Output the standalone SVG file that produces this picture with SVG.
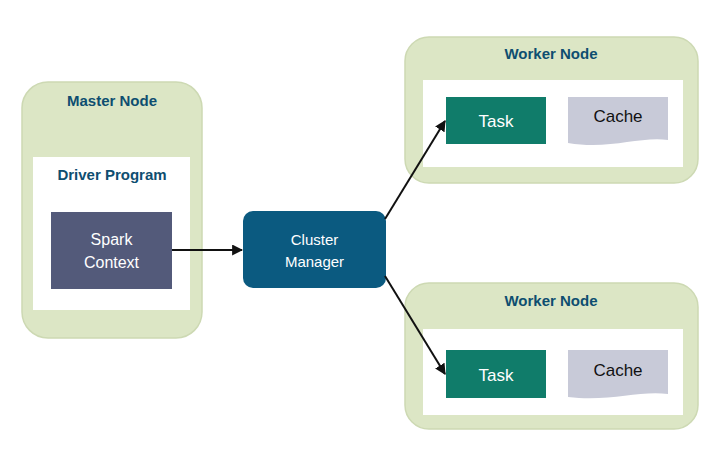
<svg xmlns="http://www.w3.org/2000/svg" width="715" height="461" viewBox="0 0 715 461">
<style>
.outer{fill:#dce6c5;stroke:#cdd9b3;stroke-width:1.5}
.inner{fill:#ffffff}
.title{font-family:"Liberation Sans",Arial,sans-serif;font-weight:bold;font-size:15px;fill:#0e4e70;text-anchor:middle}
.lbl{font-family:"Liberation Sans",Arial,sans-serif;font-size:16px;text-anchor:middle}
.big{font-size:17px}
.task{fill:#107c6a}
.cache{fill:#c8cad8}
.conn{stroke:#111111;stroke-width:2;fill:none;marker-end:url(#ah)}
</style>
<defs>
<marker id="ah" viewBox="0 0 10 10" refX="9" refY="5" markerWidth="5.5" markerHeight="5.5" orient="auto" markerUnits="strokeWidth">
<path d="M0,0 L10,5 L0,10 z" fill="#111111"/>
</marker>
</defs>
<rect width="715" height="461" fill="#ffffff"/>
<g id="master-node">
<rect class="outer" x="22" y="82" width="180" height="256" rx="26"/>
<text class="title" x="112" y="106">Master Node</text>
<g id="driver-program">
<rect class="inner" x="33" y="157" width="157" height="153"/>
<text class="title" x="112" y="180">Driver Program</text>
</g>
<g id="spark-context">
<rect x="51" y="212" width="121" height="77" fill="#535a7a"/>
<text class="lbl" x="111.5" y="245" fill="#ffffff">Spark</text>
<text class="lbl" x="111.5" y="268" fill="#ffffff">Context</text>
</g>
</g>
<g id="cluster-manager">
<rect x="243" y="211" width="143" height="77" rx="10" fill="#0b5a80"/>
<text class="lbl" x="314.5" y="245" fill="#ffffff" style="font-size:15px">Cluster</text>
<text class="lbl" x="314.5" y="267" fill="#ffffff" style="font-size:15px">Manager</text>
</g>
<g id="worker-node-1">
<rect class="outer" x="405" y="37" width="293" height="146" rx="24"/>
<text class="title" x="551" y="59">Worker Node</text>
<rect class="inner" x="423" y="80" width="260" height="87"/>
<g id="task-1">
<rect class="task" x="446" y="97" width="100" height="47"/>
<text class="lbl big" x="496" y="127" fill="#ffffff">Task</text>
</g>
<g id="cache-1">
<path class="cache" d="M568,97 L668,97 L668,140 C640,136 610,150 568,143 Z"/>
<text class="lbl big" x="618" y="122" fill="#111111">Cache</text>
</g>
</g>
<g id="worker-node-2">
<rect class="outer" x="405" y="283" width="293" height="146" rx="24"/>
<text class="title" x="551" y="306">Worker Node</text>
<rect class="inner" x="423" y="329" width="260" height="86"/>
<g id="task-2">
<rect class="task" x="446" y="350" width="100" height="48"/>
<text class="lbl big" x="496" y="381" fill="#ffffff">Task</text>
</g>
<g id="cache-2">
<path class="cache" d="M568,350 L668,350 L668,394 C640,390 610,402 568,397 Z"/>
<text class="lbl big" x="618" y="376" fill="#111111">Cache</text>
</g>
</g>
<g id="connectors">
<line class="conn" x1="172" y1="250" x2="242" y2="250"/>
<line class="conn" x1="385" y1="219" x2="445" y2="121"/>
<line class="conn" x1="385" y1="276" x2="445" y2="374"/>
</g>
</svg>
